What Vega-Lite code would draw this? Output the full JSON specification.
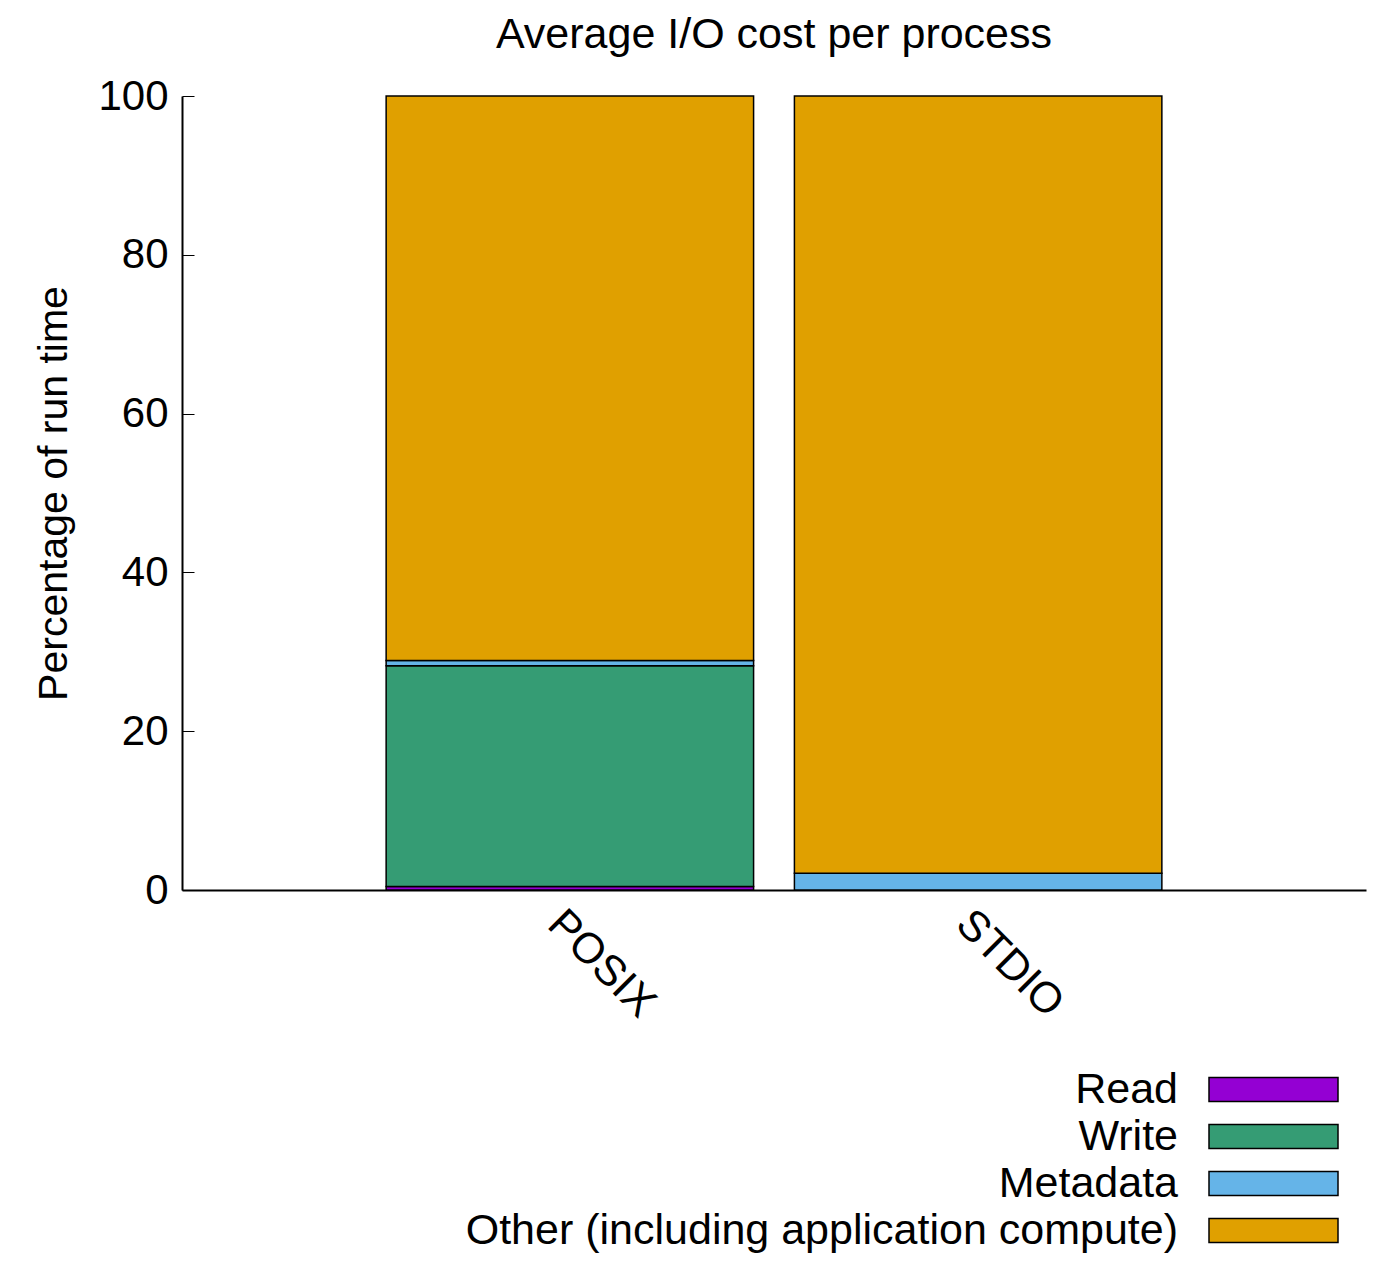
{
"$schema":"https://vega.github.io/schema/vega-lite/v6.json",
"background":"white",
"padding":{"left":33,"top":14,"right":10,"bottom":5},
"config":{"font":"Liberation Sans","view":{"stroke":null},"concat":{"spacing":40}},
"datasets":{
"d":[
{"api":"POSIX","cat":"Read","o":1,"v":0.45},
{"api":"POSIX","cat":"Write","o":2,"v":27.8},
{"api":"POSIX","cat":"Metadata","o":3,"v":0.65},
{"api":"POSIX","cat":"Other (including application compute)","o":4,"v":71.1},
{"api":"STDIO","cat":"Read","o":1,"v":0},
{"api":"STDIO","cat":"Write","o":2,"v":0},
{"api":"STDIO","cat":"Metadata","o":3,"v":2.1},
{"api":"STDIO","cat":"Other (including application compute)","o":4,"v":97.9}
]},
"vconcat":[
{"width":1184,"height":794,
"title":{"text":"Average I/O cost per process","fontSize":43,"fontWeight":"normal","offset":18},
"data":{"name":"d"},
"mark":{"type":"bar","stroke":"black","strokeWidth":1.5},
"encoding":{
"x":{"field":"api","type":"nominal","title":null,"scale":{"paddingInner":0.1,"paddingOuter":0.5},
"axis":{"labelAngle":45,"labelAlign":"left","labelBaseline":"top","labelFontSize":43,"ticks":false,"domainColor":"black","domainWidth":2,"labelPadding":12}},
"y":{"field":"v","type":"quantitative","stack":"zero","title":"Percentage of run time","scale":{"domain":[0,100],"nice":false},
"axis":{"values":[0,20,40,60,80,100],"grid":false,"tickSize":-12,"tickColor":"black","domainColor":"black","domainWidth":2,"labelFontSize":42,"labelPadding":26,"titleFontSize":41,"titleFontWeight":"normal","titlePadding":22}},
"color":{"field":"cat","type":"nominal","legend":null,
"scale":{"domain":["Read","Write","Metadata","Other (including application compute)"],"range":["#9400d3","#359c74","#65b4e8","#e0a000"]}},
"order":{"field":"o","type":"quantitative"}
}},
{"width":1184,"height":188,
"data":{"name":"d"},
"transform":[{"filter":"datum.api=='POSIX'"}],
"encoding":{"y":{"field":"o","type":"ordinal","axis":null,"scale":{"paddingInner":0,"paddingOuter":0}}},
"layer":[
{"mark":{"type":"text","align":"right","fontSize":43,"baseline":"middle"},
"encoding":{"x":{"datum":996,"type":"quantitative","scale":{"domain":[0,1184],"nice":false},"axis":null},"text":{"field":"cat"}}},
{"mark":{"type":"bar","stroke":"black","strokeWidth":1.5,"height":24},
"encoding":{"x":{"datum":1027,"type":"quantitative"},"x2":{"datum":1156},
"color":{"field":"cat","type":"nominal","legend":null,
"scale":{"domain":["Read","Write","Metadata","Other (including application compute)"],"range":["#9400d3","#359c74","#65b4e8","#e0a000"]}}}}
]}
]}
